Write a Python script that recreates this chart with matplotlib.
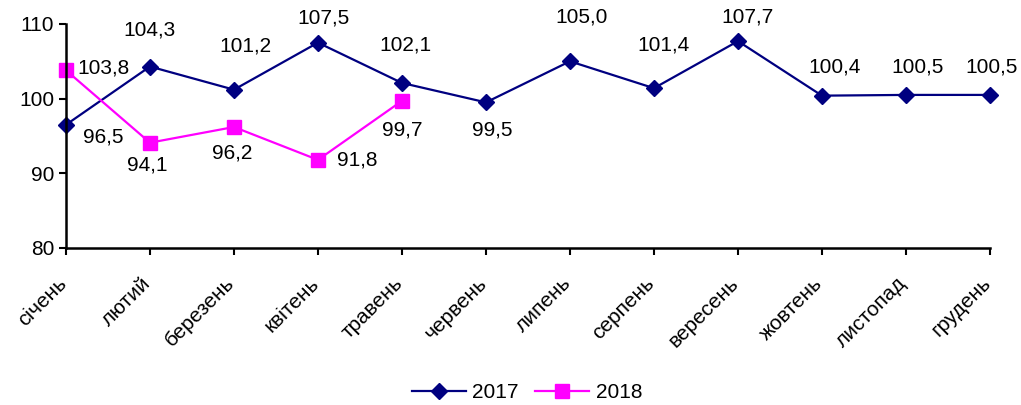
import numpy as np
import matplotlib
matplotlib.use('Agg')
from matplotlib import pyplot as plt
from matplotlib.transforms import ScaledTranslation

plt.rcParams['font.family'] = ['Liberation Sans', 'DejaVu Sans']

#-- DATA
months = ['січень', 'лютий', 'березень', 'квітень', 'травень', 'червень',
          'липень', 'серпень', 'вересень', 'жовтень', 'листопад', 'грудень']
v2017 = [96.5, 104.3, 101.2, 107.5, 102.1, 99.5, 105.0, 101.4, 107.7, 100.4, 100.5, 100.5]
v2018 = [103.8, 94.1, 96.2, 91.8, 99.7]

#-- label offsets in pixels (dx, dy)
off2017 = [(37, -12), (0, 37), (11, 44), (6, 25), (3, 38), (6, -28),
           (12, 44), (10, 43), (10, 24), (13, 29), (12, 28), (2, 28)]
off2018 = [(38, 2), (-3, -22), (-2, -26), (39, 0), (0, -29)]

def fmt(v):
    return ('%.1f' % v).replace('.', ',')

FS = 15

fig = plt.figure(figsize=(10.21, 4.05), dpi=100)
ax = fig.add_axes([0.0646, 0.3877, 0.9050, 0.5531])

x17 = np.arange(len(v2017))
x18 = np.arange(len(v2018))
ax.plot(x17, v2017, color='#000080', lw=1.6, marker='D', ms=8, label='2017')
ax.plot(x18, v2018, color='#FF00FF', lw=1.6, marker='s', ms=10, label='2018')

for x, v, o in zip(x17, v2017, off2017):
    ax.annotate(fmt(v), (x, v), xytext=o, textcoords='offset pixels',
                ha='center', va='center', fontsize=FS)
for x, v, o in zip(x18, v2018, off2018):
    ax.annotate(fmt(v), (x, v), xytext=o, textcoords='offset pixels',
                ha='center', va='center', fontsize=FS)

ax.set_xlim(0, 11)
ax.set_ylim(80, 110)
ax.set_yticks([80, 90, 100, 110])
ax.set_xticks(x17)
ax.set_xticklabels(months, rotation=45, ha='right', rotation_mode='anchor')
ax.tick_params(axis='both', labelsize=FS, width=1.5, length=5, direction='out')
ax.tick_params(axis='x', pad=7)
shift = ScaledTranslation(-9 / 100, -9 / 100, fig.dpi_scale_trans)
for lab in ax.get_xticklabels():
    lab.set_transform(lab.get_transform() + shift)
for s in ['top', 'right']:
    ax.spines[s].set_visible(False)
for s in ['left', 'bottom']:
    ax.spines[s].set_linewidth(1.8)
for ln in ax.lines:
    ln.set_clip_on(False)

fig.legend(loc='center', bbox_to_anchor=(0.516, 0.03), ncol=2, frameon=False,
           fontsize=FS, handlelength=2.6, handletextpad=0.3, columnspacing=0.8)

fig.savefig('out.png', dpi=100)
